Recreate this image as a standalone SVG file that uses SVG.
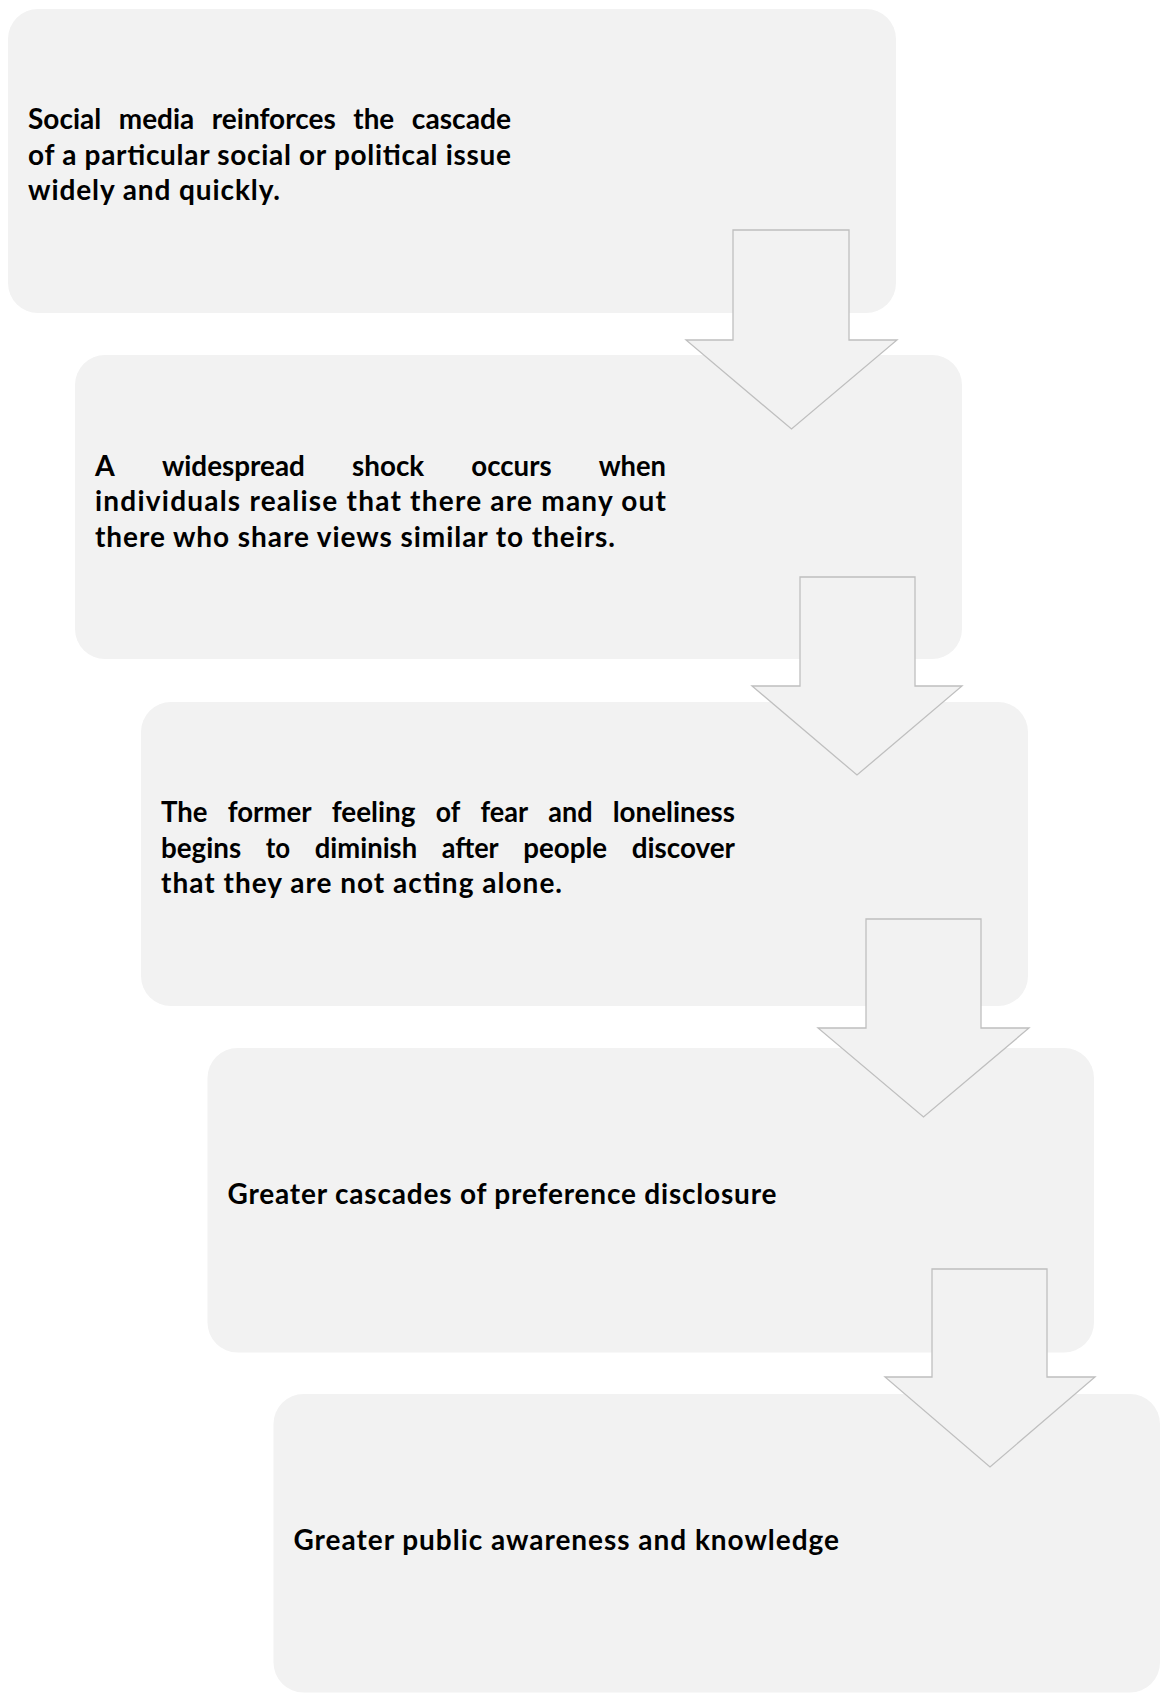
<svg xmlns="http://www.w3.org/2000/svg" width="1164" height="1693" viewBox="0 0 1164 1693">
<style>
.box{fill:#f2f2f2;stroke:none}
.t{font-family:Lato,"Liberation Sans",sans-serif;font-weight:700;font-size:28px;fill:#000}
.arr{fill:#f2f2f2;stroke:#bfbfbf;stroke-width:1.3;stroke-linejoin:miter}
</style>
<rect width="1164" height="1693" fill="#ffffff"/>
<g id="node1">
<rect class="box" x="8" y="9" width="888" height="304" rx="30" ry="30"/>
<text class="t" x="28" y="129" textLength="73.2" lengthAdjust="spacingAndGlyphs">Social</text>
<text class="t" x="118.8" y="129" textLength="75.4" lengthAdjust="spacingAndGlyphs">media</text>
<text class="t" x="211.8" y="129" textLength="123.9" lengthAdjust="spacingAndGlyphs">reinforces</text>
<text class="t" x="353.3" y="129" textLength="40.9" lengthAdjust="spacingAndGlyphs">the</text>
<text class="t" x="411.8" y="129" textLength="99.2" lengthAdjust="spacingAndGlyphs">cascade</text>
<text class="t" x="28" y="164.5" textLength="483" lengthAdjust="spacing">of a particular social or political issue</text>
<text class="t" x="28" y="200" textLength="252" lengthAdjust="spacing">widely and quickly.</text>
</g>
<g id="node2">
<rect class="box" x="75" y="355" width="887" height="304" rx="30" ry="30"/>
<text class="t" x="95" y="475.5" textLength="19.8" lengthAdjust="spacingAndGlyphs">A</text>
<text class="t" x="161.9" y="475.5" textLength="143" lengthAdjust="spacingAndGlyphs">widespread</text>
<text class="t" x="352" y="475.5" textLength="72.2" lengthAdjust="spacingAndGlyphs">shock</text>
<text class="t" x="471.3" y="475.5" textLength="80.3" lengthAdjust="spacingAndGlyphs">occurs</text>
<text class="t" x="598.7" y="475.5" textLength="67.3" lengthAdjust="spacingAndGlyphs">when</text>
<text class="t" x="95" y="511" textLength="571" lengthAdjust="spacing">individuals realise that there are many out</text>
<text class="t" x="95" y="546.5" textLength="520" lengthAdjust="spacing">there who share views similar to theirs.</text>
</g>
<g id="node3">
<rect class="box" x="141" y="702" width="887" height="304" rx="30" ry="30"/>
<text class="t" x="161" y="822" textLength="46.5" lengthAdjust="spacingAndGlyphs">The</text>
<text class="t" x="227.7" y="822" textLength="83.8" lengthAdjust="spacingAndGlyphs">former</text>
<text class="t" x="331.7" y="822" textLength="83.8" lengthAdjust="spacingAndGlyphs">feeling</text>
<text class="t" x="435.7" y="822" textLength="24.5" lengthAdjust="spacingAndGlyphs">of</text>
<text class="t" x="480.4" y="822" textLength="47.7" lengthAdjust="spacingAndGlyphs">fear</text>
<text class="t" x="548.3" y="822" textLength="44.2" lengthAdjust="spacingAndGlyphs">and</text>
<text class="t" x="612.7" y="822" textLength="122.3" lengthAdjust="spacingAndGlyphs">loneliness</text>
<text class="t" x="161" y="857.5" textLength="80.2" lengthAdjust="spacingAndGlyphs">begins</text>
<text class="t" x="265.8" y="857.5" textLength="24.4" lengthAdjust="spacingAndGlyphs">to</text>
<text class="t" x="314.8" y="857.5" textLength="102.3" lengthAdjust="spacingAndGlyphs">diminish</text>
<text class="t" x="441.7" y="857.5" textLength="57" lengthAdjust="spacingAndGlyphs">after</text>
<text class="t" x="523.3" y="857.5" textLength="83.8" lengthAdjust="spacingAndGlyphs">people</text>
<text class="t" x="631.7" y="857.5" textLength="103.3" lengthAdjust="spacingAndGlyphs">discover</text>
<text class="t" x="161" y="893" textLength="401" lengthAdjust="spacing">that they are not acting alone.</text>
</g>
<g id="node4">
<rect class="box" x="207.5" y="1048" width="886.5" height="304.5" rx="30" ry="30"/>
<text class="t" x="227.5" y="1204" textLength="549" lengthAdjust="spacing">Greater cascades of preference disclosure</text>
</g>
<g id="node5">
<rect class="box" x="273.5" y="1394" width="886.5" height="298.5" rx="30" ry="30"/>
<text class="t" x="293.5" y="1550" textLength="545.5" lengthAdjust="spacing">Greater public awareness and knowledge</text>
</g>
<g id="connectors">
<polygon class="arr" points="733,230 849,230 849,340 897,340 791.5,429 686,340 733,340"/>
<polygon class="arr" points="800,577 915,577 915,686 962,686 857,775 752,686 800,686"/>
<polygon class="arr" points="866,919 981,919 981,1028 1029,1028 923.5,1117 818,1028 866,1028"/>
<polygon class="arr" points="932,1269 1047,1269 1047,1377 1095,1377 990,1467 885,1377 932,1377"/>
</g>
</svg>
